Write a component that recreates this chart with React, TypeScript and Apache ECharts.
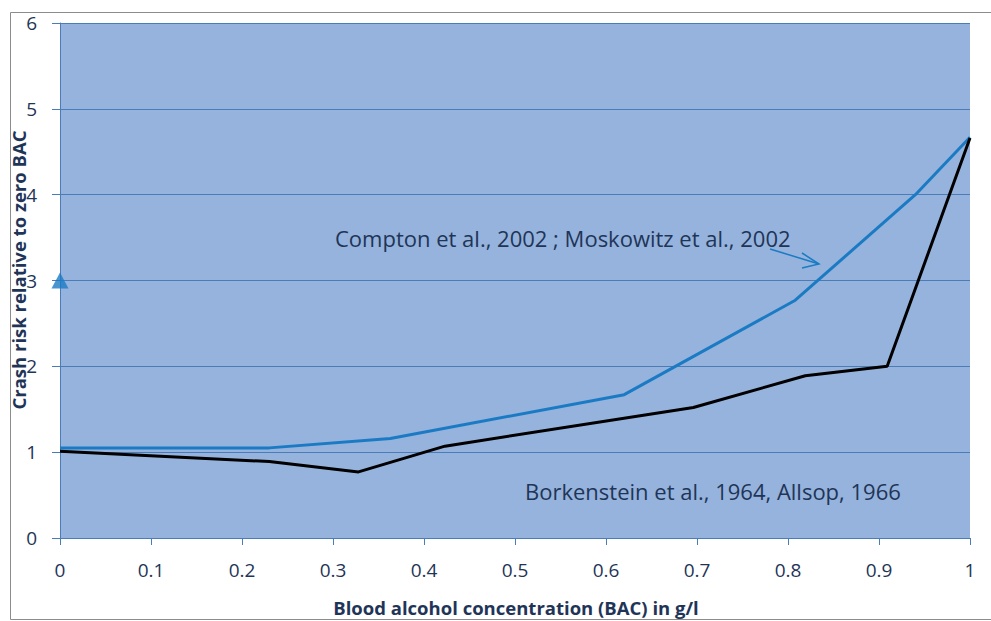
import React, { useEffect, useRef } from "react";
import * as echarts from "echarts";

const xTicks = [0, 0.1, 0.2, 0.3, 0.4, 0.5, 0.6, 0.7, 0.8, 0.9, 1];
const comptonX = [0, 0.23, 0.363, 0.62, 0.808, 0.94, 1.0];
const comptonY = [1.05, 1.05, 1.16, 1.67, 2.77, 4.0, 4.67];
const borkX = [0, 0.23, 0.328, 0.423, 0.696, 0.819, 0.909, 1.0];
const borkY = [1.01, 0.89, 0.77, 1.07, 1.52, 1.89, 2.0, 4.66];
const markerX = [0];
const markerY = [3];
const comptonLabel = "Compton et al., 2002 ; Moskowitz et al., 2002";
const borkLabel = "Borkenstein et al., 1964, Allsop, 1966";
const yTitle = "Crash risk relative to zero BAC";
const xTitle = "Blood alcohol concentration (BAC) in g/l";

const TEXT = "#1F3558";
const GRID = "#4A7CB8";
const BLUE = "#1A7BC4";

export default function App() {
  const ref = useRef<HTMLDivElement>(null);
  useEffect(() => {
    if (!ref.current) return;
    const chart = echarts.init(ref.current, null, { renderer: "svg" });
    const font = "'Open Sans', 'DejaVu Sans', sans-serif";
    chart.setOption({
      animation: false,
      backgroundColor: "#ffffff",
      grid: { left: 60, right: 21, top: 23, bottom: 83, show: true, backgroundColor: "#95B3DC", borderWidth: 0 },
      xAxis: {
        type: "value",
        min: 0,
        max: 1,
        interval: 0.1,
        axisLine: { show: true, lineStyle: { color: GRID, width: 1 } },
        axisTick: { show: true, length: 7, lineStyle: { color: GRID } },
        splitLine: { show: false },
        axisLabel: {
          margin: 22,
          color: TEXT,
          fontSize: 19,
          fontFamily: font,
          formatter: (v: number) => {
            const t = xTicks.find((x) => Math.abs(x - v) < 1e-6);
            return t === undefined ? "" : String(t);
          },
        },
      },
      yAxis: {
        type: "value",
        min: 0,
        max: 6,
        interval: 1,
        axisLine: { show: true, lineStyle: { color: GRID, width: 1 } },
        axisTick: { show: true, length: 8, lineStyle: { color: GRID } },
        splitLine: { show: true, lineStyle: { color: GRID, width: 1 } },
        axisLabel: { margin: 23, color: TEXT, fontSize: 19, fontFamily: font },
      },
      series: [
        {
          type: "line",
          data: comptonX.map((x, i) => [x, comptonY[i]]),
          symbol: "none",
          lineStyle: { color: BLUE, width: 3 },
          clip: false,
          z: 3,
        },
        {
          type: "line",
          data: borkX.map((x, i) => [x, borkY[i]]),
          symbol: "none",
          lineStyle: { color: "#000000", width: 3 },
          clip: false,
          z: 4,
        },
        {
          type: "scatter",
          data: markerX.map((x, i) => [x, markerY[i]]),
          symbol: "triangle",
          symbolSize: [17, 16],
          itemStyle: { color: BLUE },
          clip: false,
          z: 5,
        },
      ],
      graphic: [
        {
          type: "rect",
          shape: { x: 10.5, y: 12.5, width: 1000, height: 607 },
          style: { fill: "none", stroke: "#8c8c8c", lineWidth: 1 },
          z: 0,
          silent: true,
        },
        {
          type: "text",
          x: 18,
          y: 270,
          rotation: Math.PI / 2,
          style: {
            text: yTitle,
            fill: TEXT,
            font: "bold 18.5px 'Open Sans', sans-serif",
            align: "center",
            verticalAlign: "middle",
          },
          z: 10,
        },
        {
          type: "text",
          x: 516,
          y: 607,
          style: {
            text: xTitle,
            fill: TEXT,
            font: "bold 18.5px 'Open Sans', sans-serif",
            align: "center",
            verticalAlign: "middle",
          },
          z: 10,
        },
        {
          type: "text",
          x: 335,
          y: 238,
          style: {
            text: comptonLabel,
            fill: TEXT,
            font: "22px 'Open Sans', sans-serif",
            align: "left",
            verticalAlign: "middle",
          },
          z: 10,
        },
        {
          type: "text",
          x: 525,
          y: 491,
          style: {
            text: borkLabel,
            fill: TEXT,
            font: "22px 'Open Sans', sans-serif",
            align: "left",
            verticalAlign: "middle",
          },
          z: 10,
        },
        {
          type: "line",
          shape: { x1: 770, y1: 249, x2: 819, y2: 264 },
          style: { stroke: BLUE, lineWidth: 1.5 },
          z: 10,
        },
        {
          type: "polyline",
          shape: { points: [[802, 253], [819, 264], [802, 268]] },
          style: { stroke: BLUE, lineWidth: 1.5, fill: "none" },
          z: 10,
        },
      ],
    });
    return () => chart.dispose();
  }, []);
  return (
    <div
      ref={ref}
      style={{ position: "fixed", left: 0, top: 0, width: 991, height: 621 }}
    />
  );
}
